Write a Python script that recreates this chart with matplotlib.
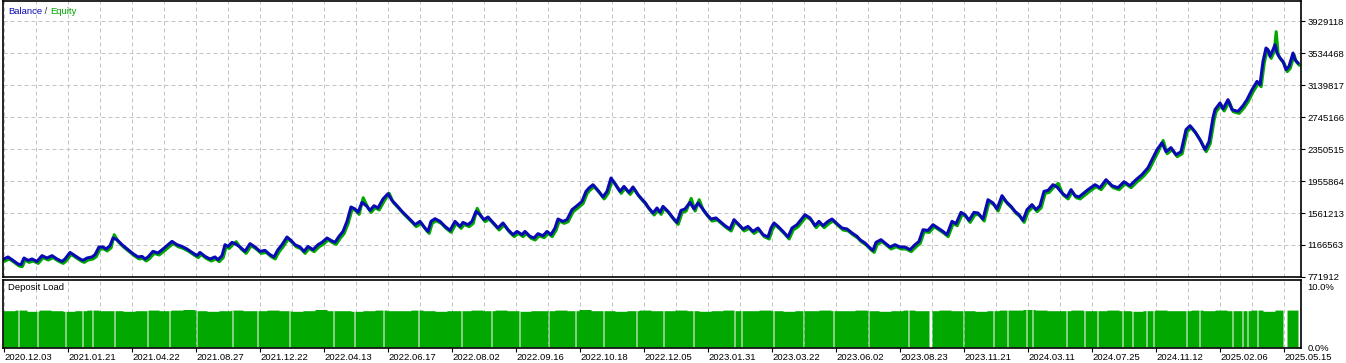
import numpy as np
import matplotlib.pyplot as plt
from matplotlib.transforms import ScaledTranslation

plt.rcParams['font.family'] = ['Liberation Sans', 'DejaVu Sans']

# trade number -> balance (thousands)
trades = [0, 4, 9, 14, 17, 20, 24, 28, 33, 38,
          43, 48, 53, 58, 61, 66, 71, 76, 79, 83,
          88, 91, 95, 99, 102, 106, 109, 113, 118, 124,
          129, 134, 138, 141, 144, 149, 154, 159, 163, 168,
          173, 178, 183, 188, 193, 196, 201, 206, 211, 214,
          218, 221, 224, 228, 231, 236, 241, 246, 251, 256,
          261, 266, 270, 274, 278, 283, 287, 291, 296, 300,
          304, 309, 314, 318, 323, 327, 331, 335, 339, 343,
          347, 351, 354, 358, 363, 366, 370, 374, 379, 384,
          388, 393, 398, 403, 408, 411, 416, 421, 424, 427,
          431, 436, 441, 446, 451, 456, 459, 464, 468, 472,
          476, 480, 484, 489, 494, 499, 504, 509, 513, 518,
          521, 526, 530, 534, 539, 543, 547, 551, 554, 559,
          563, 568, 573, 578, 582, 585, 589, 594, 599, 603,
          607, 611, 616, 620, 625, 629, 634, 639, 641, 644,
          649, 653, 656, 659, 664, 669, 673, 677, 681, 686,
          690, 694, 698, 703, 707, 712, 716, 721, 726, 730,
          735, 739, 744, 749, 754, 759, 764, 767, 770, 774,
          779, 784, 788, 793, 797, 801, 806, 811, 815, 819,
          824, 828, 833, 838, 843, 848, 853, 856, 861, 866,
          869, 872, 877, 881, 886, 891, 896, 901, 906, 911,
          915, 919, 924, 929, 934, 939, 943, 948, 952, 957,
          961, 965, 970, 974, 979, 984, 989, 993, 998, 1002,
          1007, 1011, 1015, 1019, 1023, 1028, 1032, 1036, 1040, 1044,
          1049, 1053, 1058, 1063, 1067, 1071, 1075, 1084, 1091, 1096,
          1102, 1108, 1114, 1120, 1126, 1132, 1138, 1144, 1148, 1153,
          1158, 1162, 1167, 1172, 1177, 1182, 1186, 1191, 1196, 1201,
          1205, 1209, 1211, 1216, 1219, 1224, 1228, 1234, 1239, 1243,
          1248, 1253, 1256, 1259, 1262, 1264, 1266, 1269, 1271, 1273,
          1276, 1279, 1282, 1285, 1289, 1291, 1294]
balance = [994, 1019, 977, 932, 924, 1006, 977, 994, 964, 1035,
           1006, 1035, 994, 964, 994, 1075, 1035, 994, 977, 1006,
           1019, 1047, 1142, 1142, 1117, 1158, 1253, 1232, 1170, 1109,
           1059, 1019, 1026, 994, 1019, 1088, 1068, 1117, 1158, 1211,
           1170, 1149, 1117, 1075, 1035, 1075, 1026, 994, 1019, 985,
           1035, 1170, 1149, 1199, 1183, 1142, 1088, 1183, 1142, 1088,
           1100, 1047, 1019, 1109, 1170, 1265, 1223, 1170, 1142, 1088,
           1149, 1109, 1170, 1199, 1253, 1223, 1199, 1273, 1334, 1458,
           1635, 1611, 1569, 1692, 1643, 1593, 1651, 1623, 1734, 1799,
           1717, 1651, 1581, 1519, 1458, 1417, 1458, 1376, 1334, 1458,
           1491, 1458, 1396, 1347, 1458, 1396, 1445, 1417, 1458, 1581,
           1540, 1479, 1512, 1445, 1376, 1438, 1355, 1294, 1334, 1294,
           1334, 1273, 1253, 1306, 1281, 1334, 1294, 1376, 1487, 1458,
           1479, 1602, 1651, 1704, 1828, 1870, 1910, 1840, 1759, 1828,
           1993, 1923, 1828, 1889, 1815, 1882, 1787, 1717, 1692, 1635,
           1561, 1623, 1569, 1643, 1581, 1500, 1445, 1593, 1611, 1692,
           1610, 1685, 1623, 1540, 1487, 1500, 1458, 1405, 1364, 1479,
           1417, 1364, 1396, 1334, 1376, 1294, 1265, 1376, 1438, 1396,
           1334, 1265, 1376, 1417, 1479, 1540, 1500, 1405, 1458, 1405,
           1458, 1487, 1429, 1376, 1364, 1315, 1273, 1232, 1191, 1130,
           1100, 1199, 1232, 1191, 1142, 1170, 1142, 1142, 1109, 1170,
           1211, 1355, 1346, 1417, 1376, 1334, 1294, 1458, 1429, 1569,
           1540, 1470, 1569, 1561, 1487, 1725, 1685, 1610, 1775, 1704,
           1643, 1581, 1540, 1470, 1602, 1664, 1602, 1651, 1828, 1840,
           1910, 1882, 1808, 1759, 1849, 1775, 1759, 1849, 1910, 1873,
           1972, 1898, 1873, 1947, 1898, 1972, 2034, 2120, 2219, 2342,
           2428, 2317, 2367, 2280, 2317, 2589, 2638, 2564, 2465, 2342,
           2441, 2737, 2835, 2918, 2844, 2959, 2835, 2814, 2885, 2959,
           3082, 3184, 3144, 3431, 3596, 3575, 3493, 3575, 3637, 3535,
           3473, 3431, 3329, 3369, 3534, 3452, 3411]
# equity readings where it leaves the balance line
equity_peaks = {109: 1318, 231: 1232, 358: 1774, 384: 1828, 472: 1643,
                686: 1766, 694: 1750, 1053: 1951, 1158: 2480, 1271: 3822}

# deposit load (%), blocks of 12 trades, and trades with no load
load_blocks = [6.0, 6.1, 5.9, 6.1, 6.0, 5.9, 6.0, 6.1, 6.0, 6.0,
               5.9, 6.0, 6.1, 6.0, 6.1, 6.2, 6.0, 5.9, 6.0, 6.1,
               6.0, 6.0, 6.1, 6.0, 5.9, 6.0, 6.2, 6.0, 6.0, 5.9,
               6.0, 6.1, 6.0, 6.0, 6.1, 6.0, 5.9, 6.0, 6.0, 6.1,
               6.0, 6.1, 6.0, 5.9, 6.0, 6.0, 6.1, 6.0, 6.2, 6.0,
               6.0, 5.9, 6.0, 6.1, 6.0, 6.0, 6.1, 6.0, 5.9, 6.0,
               6.1, 6.0, 6.0, 6.1, 6.0, 5.9, 6.0, 6.0, 6.1, 6.0,
               6.0, 6.1, 6.0, 5.9, 6.0, 6.1, 6.0, 6.0, 6.1, 6.0,
               6.0, 5.9, 6.0, 6.1, 6.1, 6.2, 6.1, 6.0, 6.0, 6.1,
               6.0, 6.0, 6.1, 6.0, 5.9, 6.0, 6.1, 6.0, 6.0, 6.1,
               6.0, 6.1, 6.0, 6.0, 6.1, 5.9, 6.1, 6.1]
idle_trades = [15, 34, 62, 79, 89, 111, 144, 166, 193, 229, 254, 286, 330, 351,
               380, 415, 458, 488, 516, 545, 572, 600, 633, 660, 690, 731, 738,
               770, 800, 830, 865, 905, 926, 927, 928, 960, 990, 1004, 1023,
               1029, 1063, 1081, 1094, 1119, 1129, 1143, 1150, 1183, 1196, 1229,
               1239, 1244, 1254, 1280, 1281, 1282, 1283]

date_labels = ['2020.12.03', '2021.01.21', '2021.04.22', '2021.08.27', '2021.12.22',
               '2022.04.13', '2022.06.17', '2022.08.02', '2022.09.16', '2022.10.18',
               '2022.12.05', '2023.01.31', '2023.03.22', '2023.06.02', '2023.08.23',
               '2023.11.21', '2024.03.11', '2024.07.25', '2024.11.12', '2025.02.06',
               '2025.05.15']
date_trades = [64 * i for i in range(len(date_labels))]
balance_ticks = [771.912, 1166.563, 1561.213, 1955.864, 2350.515,
                 2745.166, 3139.817, 3534.468, 3929.118]
balance_tick_labels = ['771912', '1166563', '1561213', '1955864', '2350515',
                       '2745166', '3139817', '3534468', '3929118']

assert len(trades) == len(balance)

W, H = 1346, 363
BLUE = '#0a0ab4'
GREEN = '#00a800'
GRID = '#c4c4c4'
FS = 6.8


def px_rect(x0, y0, x1, y1):
    return [x0 / W, 1 - y1 / H, (x1 - x0) / W, (y1 - y0) / H]


fig = plt.figure(figsize=(W / 100, H / 100), dpi=100)
ax = fig.add_axes(px_rect(3, 1, 1301, 277))
ax2 = fig.add_axes(px_rect(3, 280, 1301, 347.5))

equity = [equity_peaks.get(t, b) for t, b in zip(trades, balance)]

# equity drawn a touch lower/right, balance on top
shift = ax.transData + ScaledTranslation(1.2 / 100, -2 / 100, fig.dpi_scale_trans)
ax.plot(trades, equity, color=GREEN, lw=2.2, transform=shift)
ax.plot(trades, balance, color=BLUE, lw=2.2)

ax.set_xlim(-1, 1297)
ax.set_ylim(771.912, 771.912 + 276 / 32 * 394.651)
ax.set_yticks(balance_ticks)
ax.set_yticklabels(balance_tick_labels)
ax.yaxis.tick_right()
ax.set_xticks(np.arange(0, 1297, 32))
ax.tick_params(axis='x', length=0, labelbottom=False)
ax.tick_params(axis='y', length=3, width=0.8, pad=1.5, labelsize=FS)
ax.grid(True, color=GRID, lw=0.72, ls=(0, (4, 3)))
ax.set_axisbelow(True)

# deposit load panel
load = np.repeat(load_blocks, 12)[:trades[-1] + 1]
load[idle_trades] = 0
ax2.stairs(load, np.arange(-0.5, len(load)), fill=True, color=GREEN, lw=0)
ax2.set_xlim(-1, 1297)
ax2.set_ylim(0, 67.5 / 60.5 * 10)
ax2.set_yticks([0, 10])
ax2.set_yticklabels(['0.0%', '10.0%'])
ax2.yaxis.tick_right()
ax2.set_xticks(np.arange(0, 1297, 32), minor=True)
ax2.set_xticks(date_trades)
ax2.set_xticklabels(date_labels, ha='left')
ax2.tick_params(axis='x', which='major', length=3, width=0.8, pad=1, labelsize=FS)
ax2.tick_params(axis='x', which='minor', length=0)
ax2.tick_params(axis='y', length=0, pad=4.5, labelsize=FS)
ax2.grid(True, axis='x', which='both', color=GRID, lw=0.72, ls=(0, (4, 3)))
ax2.set_axisbelow(True)

for a in (ax, ax2):
    for s in a.spines.values():
        s.set_linewidth(1.2)
        s.set_color('black')

t1 = ax.text(5 / 1298, 1 - 10 / 276, 'Balance', color=BLUE, fontsize=FS,
             transform=ax.transAxes, va='center', ha='left')
t2 = ax.annotate(' / ', xy=(1, 0), xycoords=t1, va='bottom', ha='left',
                 fontsize=FS, color='#333333')
ax.annotate('Equity', xy=(1, 0), xycoords=t2, va='bottom', ha='left',
            fontsize=FS, color=GREEN)
ax2.text(5 / 1298, 1 - 8 / 67.5, 'Deposit Load', color='black', fontsize=FS,
         transform=ax2.transAxes, va='center', ha='left')

fig.savefig('out.png', dpi=100)
